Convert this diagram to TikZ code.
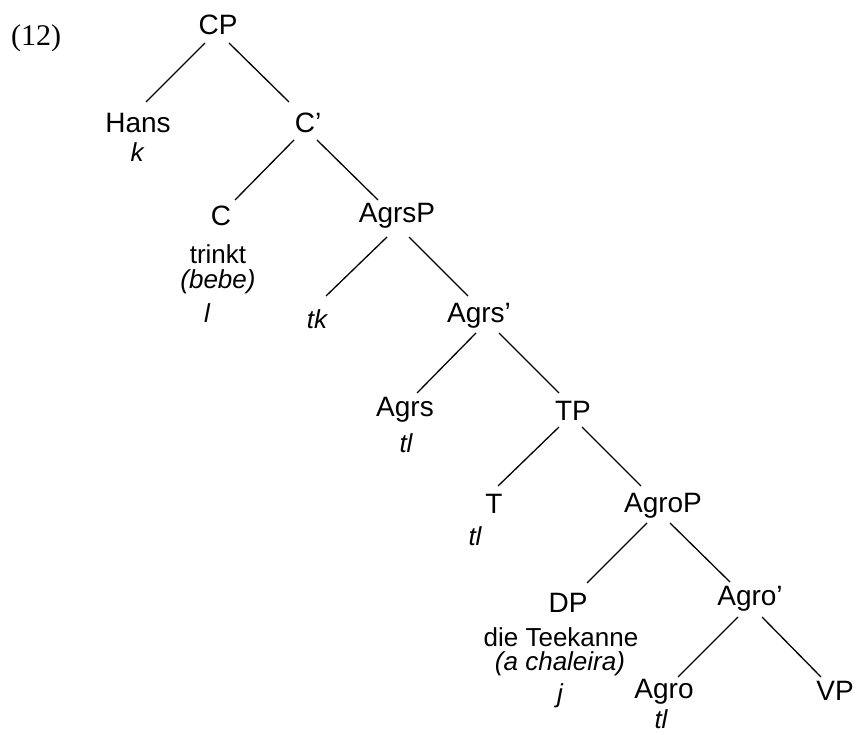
\documentclass[tikz,border=0pt]{standalone}
\usepackage{fontspec}
\setmainfont{Liberation Sans}
\newfontfamily\exserif{Liberation Serif}
\begin{document}
\begin{tikzpicture}[x=1pt,y=-1pt,
  lab/.style={inner sep=0pt,anchor=base,font=\fontsize{28}{32}\selectfont},
  sub/.style={inner sep=0pt,anchor=base,font=\fontsize{26}{30}\selectfont},
  tr/.style={inner sep=0pt,anchor=base,font=\fontsize{26}{30}\selectfont\itshape},
  edge/.style={line width=1.3pt}]
\useasboundingbox (0,0) rectangle (856,735);
\node[inner sep=0pt,anchor=base,font=\fontsize{30}{34}\selectfont\exserif] (num) at (36,46) {(12)};
% main labels
\node[lab] (CP) at (218,35) {CP};
\node[lab] (Hans) at (138,133) {Hans};
\node[lab] (Cbar) at (308,133) {C’};
\node[lab] (C) at (221,226) {C};
\node[lab] (AgrsP) at (397,223) {AgrsP};
\node[tr] (tk) at (317,328) {tk};
\node[lab] (Agrsbar) at (479,322) {Agrs’};
\node[lab] (Agrs) at (405,416) {Agrs};
\node[lab] (TP) at (573,420) {TP};
\node[lab] (T) at (494,513) {T};
\node[lab] (AgroP) at (663,512) {AgroP};
\node[lab] (DP) at (568,612) {DP};
\node[lab] (Agrobar) at (750,605) {Agro’};
\node[lab] (Agro) at (664,698) {Agro};
\node[lab] (VP) at (835,700) {VP};
% sub labels
\node[tr] (k) at (137,162) {k};
\node[sub] (trinkt) at (218,263) {trinkt};
\node[tr] (bebe) at (218,288) {(bebe)};
\node[tr] (l) at (207,322) {l};
\node[tr] (tlA) at (406,452) {tl};
\node[tr] (tlT) at (475,545) {tl};
\node[sub] (tee) at (561,646) {die Teekanne};
\node[tr] (chal) at (560,670) {(a chaleira)};
\node[tr] (j) at (560,702) {j};
\node[tr] (tlAgro) at (661,728) {tl};
% edges
\draw[edge] ([shift={(-13,8)}]CP.base) -- ([shift={(8,-31)}]Hans.base);
\draw[edge] ([shift={(11,8)}]CP.base) -- ([shift={(-19,-31)}]Cbar.base);
\draw[edge] ([shift={(-14,7)}]Cbar.base) -- ([shift={(14,-26)}]C.base);
\draw[edge] ([shift={(9,7)}]Cbar.base) -- ([shift={(-19,-23)}]AgrsP.base);
\draw[edge] ([shift={(-10,14)}]AgrsP.base) -- ([shift={(9,-32)}]tk.base);
\draw[edge] ([shift={(12,14)}]AgrsP.base) -- ([shift={(-11,-26)}]Agrsbar.base);
\draw[edge] ([shift={(-3,11)}]Agrsbar.base) -- ([shift={(12,-23)}]Agrs.base);
\draw[edge] ([shift={(20,11)}]Agrsbar.base) -- ([shift={(-14,-27)}]TP.base);
\draw[edge] ([shift={(-14,7)}]TP.base) -- ([shift={(4,-27)}]T.base);
\draw[edge] ([shift={(9,7)}]TP.base) -- ([shift={(-22,-26)}]AgroP.base);
\draw[edge] ([shift={(-16,11)}]AgroP.base) -- ([shift={(19,-29)}]DP.base);
\draw[edge] ([shift={(7,11)}]AgroP.base) -- ([shift={(-20,-23)}]Agrobar.base);
\draw[edge] ([shift={(-12,12)}]Agrobar.base) -- ([shift={(14,-21)}]Agro.base);
\draw[edge] ([shift={(12,12)}]Agrobar.base) -- ([shift={(-14,-23)}]VP.base);
\end{tikzpicture}
\end{document}
